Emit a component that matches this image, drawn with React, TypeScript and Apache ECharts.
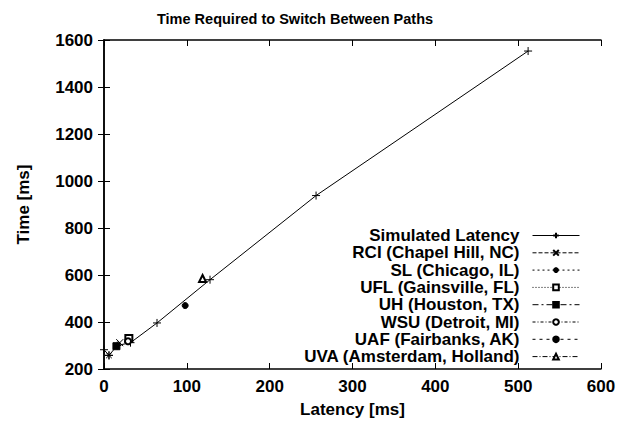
import React, { useEffect, useRef } from "react";
import * as echarts from "echarts";

const simLatency = [0, 6, 16, 32, 64, 128, 256, 512];
const simTime = [282, 258, 300, 312, 396, 580, 938, 1553];

const siteNames = [
  "RCI (Chapel Hill, NC)",
  "SL (Chicago, IL)",
  "UFL (Gainsville, FL)",
  "UH (Houston, TX)",
  "WSU (Detroit, MI)",
  "UAF (Fairbanks, AK)",
  "UVA (Amsterdam, Holland)",
];
const siteLatency = [19, 6, 30, 15, 29, 98, 119];
const siteTime = [312, 258, 330, 297, 318, 470, 585];

const xTicks = [0, 600, 100];
const yTicks = [200, 1600, 200];

const PLUS = "path://M0,5L10,5M5,0L5,10";
const CROSS = "path://M0,0L10,10M10,0L0,10";
const STAR = "path://M0,5L10,5M5,0L5,10M1.5,1.5L8.5,8.5M8.5,1.5L1.5,8.5";

const siteSymbols = [CROSS, STAR, "emptyRect", "rect", "emptyCircle", "circle", "emptyTriangle"];
const siteSymbolSizes = [7, 8, 7, 7, 6, 6, 7];
const siteDash: any[] = [[4, 2], [2, 3], [1, 2], [6, 3, 2, 3], [3, 2, 1, 2], [3, 4], [5, 2, 1, 2]];

const FONT = "'Liberation Sans', Arial, Helvetica, sans-serif";

export default function App() {
  const ref = useRef<HTMLDivElement>(null);
  useEffect(() => {
    if (!ref.current) return;
    const chart = echarts.init(ref.current, undefined, { renderer: "svg" });
    const axisLine = { show: true, lineStyle: { color: "#000", width: 1.5 } };
    const tick = { show: true, inside: true, length: 6, lineStyle: { color: "#000", width: 1 } };
    const lbl = { fontFamily: FONT, fontWeight: "bold", fontSize: 17, color: "#000" };
    const series: any[] = [
      {
        name: "Simulated Latency",
        type: "line",
        data: simLatency.map((x, i) => [x, simTime[i]]),
        symbol: PLUS,
        symbolSize: 8,
        lineStyle: { color: "#000", width: 1, type: "solid" },
        itemStyle: { color: "#000", borderColor: "#000", borderWidth: 1 },
        z: 3,
      },
      ...siteNames.map((n, i) => ({
        name: n,
        type: "line",
        data: [[siteLatency[i], siteTime[i]]],
        symbol: siteSymbols[i],
        symbolSize: siteSymbolSizes[i],
        lineStyle: { color: "#000", width: 1, type: siteDash[i] },
        itemStyle: { color: "#000", borderColor: "#000", borderWidth: 1 },
        z: 4,
      })),
    ];
    chart.setOption({
      animation: false,
      color: ["#000"],
      textStyle: { fontFamily: FONT },
      title: {
        text: "Time Required to Switch Between Paths",
        left: 152,
        top: 6,
        textStyle: { fontFamily: FONT, fontWeight: "bold", fontSize: 14.5, color: "#000" },
      },
      grid: { left: 104, right: 28, top: 40, bottom: 53, containLabel: false },
      legend: {
        orient: "vertical",
        align: "right",
        right: 44,
        top: 222,
        itemWidth: 47,
        itemHeight: 7,
        itemGap: 0.3,
        lineStyle: { width: 1 },
        textStyle: { ...lbl, padding: [0, 8, 0, 0] },
        data: ["Simulated Latency", ...siteNames],
      },
      xAxis: [
        {
          type: "value",
          min: xTicks[0],
          max: xTicks[1],
          interval: xTicks[2],
          name: "Latency [ms]",
          nameLocation: "middle",
          nameGap: 32,
          nameTextStyle: lbl,
          axisLine,
          axisTick: tick,
          axisLabel: { ...lbl, margin: 9, formatter: (v: number) => String(v) },
          splitLine: { show: false },
        },
        {
          type: "value",
          position: "top",
          min: xTicks[0],
          max: xTicks[1],
          interval: xTicks[2],
          axisLine,
          axisTick: tick,
          axisLabel: { show: false },
          splitLine: { show: false },
        },
      ],
      yAxis: [
        {
          type: "value",
          min: yTicks[0],
          max: yTicks[1],
          interval: yTicks[2],
          name: "Time [ms]",
          nameLocation: "middle",
          nameGap: 72,
          nameTextStyle: lbl,
          axisLine,
          axisTick: tick,
          axisLabel: { ...lbl, margin: 11, formatter: (v: number) => String(v) },
          splitLine: { show: false },
        },
        {
          type: "value",
          position: "right",
          min: yTicks[0],
          max: yTicks[1],
          interval: yTicks[2],
          axisLine,
          axisTick: tick,
          axisLabel: { show: false },
          splitLine: { show: false },
        },
      ],
      series,
    });
    return () => chart.dispose();
  }, []);
  return <div ref={ref} style={{ width: 629, height: 423, position: "absolute", left: 0, top: 0 }} />;
}
